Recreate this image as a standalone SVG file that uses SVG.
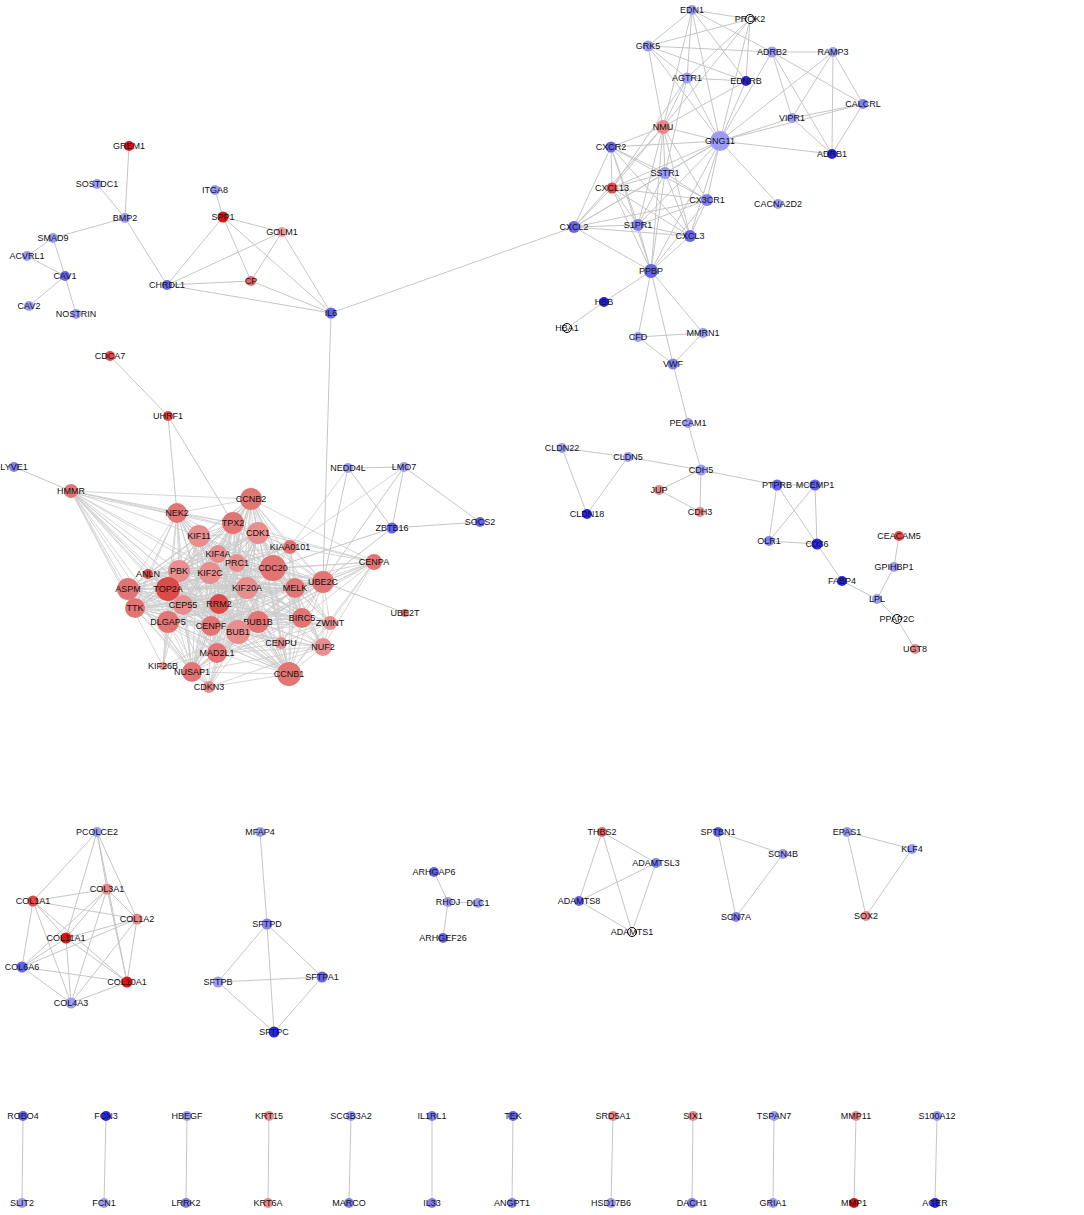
<svg xmlns="http://www.w3.org/2000/svg" width="1084" height="1215" viewBox="0 0 1084 1215">
<style>
.e{stroke:#c6c6c6;stroke-width:1;fill:none;stroke-linejoin:round}
.ed{stroke:#cbcbcb;stroke-width:0.8;fill:none;stroke-linejoin:round}
text{font-family:"Liberation Sans",Arial,sans-serif;font-size:9px;text-anchor:middle;fill:#111}
.lb{fill:#9c9cf8}.lm{fill:#8080f4}.mb{fill:#6464f0}.db{fill:#2626e6}
.lp{fill:#f0a0a0}.lr{fill:#ea8888}.rm{fill:#e86666}.rd{fill:#e44848}.dr{fill:#dd1414}
.c{fill:#e27474}.cl{fill:#e88e8e}.cd{fill:#dc4a4a}
.rg{fill:#fff;stroke:#000;stroke-width:1}
</style>
<rect width="1084" height="1215" fill="#fff"/>
<g id="connectors">
<path class="e" d="M129 146 125 218M97 184 125 218M125 218 53 238M125 218 167 285M53 238 27 256M53 238 65 276M27 256 65 276M65 276 29 306M65 276 76 314M215 190 223 217M223 217 282 232M223 217 167 285M223 217 251 281M223 217 331 313M282 232 167 285M282 232 251 281M282 232 331 313M167 285 251 281M167 285 331 313M251 281 331 313M331 313 574 227M331 313 323 582"/>
<path class="e" d="M692 10 750 19M692 10 648 46M692 10 772 52M692 10 746 81M692 10 687 78M692 10 663 127M692 10 720 141M750 19 648 46M750 19 746 81M750 19 663 127M750 19 720 141M750 19 687 78M648 46 772 52M648 46 746 81M648 46 687 78M648 46 663 127M648 46 720 141M772 52 833 52M772 52 720 141M772 52 792 118M772 52 832 154M772 52 863 104M833 52 863 104M833 52 832 154M833 52 792 118M833 52 720 141M687 78 746 81M687 78 663 127M687 78 720 141M687 78 665 173M687 78 612 188M746 81 663 127M746 81 720 141M863 104 792 118M863 104 720 141M863 104 832 154M792 118 720 141M792 118 832 154M720 141 832 154M720 141 778 204"/>
<path class="e" d="M663 127 720 141M663 127 611 147M663 127 665 173M663 127 612 188M663 127 707 200M663 127 574 227M663 127 638 225M663 127 690 236M663 127 651 271M720 141 611 147M720 141 665 173M720 141 612 188M720 141 707 200M720 141 574 227M720 141 638 225M720 141 690 236M720 141 651 271M611 147 665 173M611 147 612 188M611 147 707 200M611 147 574 227M611 147 638 225M611 147 690 236M611 147 651 271M665 173 612 188M665 173 707 200M665 173 574 227M665 173 638 225M665 173 690 236M665 173 651 271M612 188 707 200M612 188 574 227M612 188 638 225M612 188 690 236M612 188 651 271M707 200 574 227M707 200 638 225M707 200 690 236M707 200 651 271M574 227 638 225M574 227 690 236M574 227 651 271M638 225 690 236M638 225 651 271M690 236 651 271"/>
<path class="e" d="M651 271 604 302M604 302 567 328M651 271 638 337M651 271 703 333M651 271 673 364M638 337 703 333M638 337 673 364M703 333 673 364M673 364 688 423"/>
<path class="e" d="M688 423 701 470M562 448 628 457M562 448 587 514M628 457 587 514M628 457 701 470M701 470 659 490M701 470 700 512M659 490 700 512M701 470 777 485M777 485 815 485M777 485 769 541M777 485 817 544M815 485 769 541M815 485 817 544M769 541 817 544M817 544 842 581M842 581 877 599M899 536 894 567M894 567 877 599M877 599 897 619M897 619 915 649"/>
<path class="e" d="M110 356 168 416M168 416 177 513M168 416 233 523M14 467 71 491M348 468 404 467M348 468 392 528M348 468 323 582M404 467 392 528M404 467 480 522M404 467 323 582M392 528 480 522M392 528 323 582M392 528 273 568M405 613 323 582"/>
<path class="ed" d="M289 674 251 499 233 523 192 672 199 536 217 653 258 533 238 632 218 554 211 626 237 563 168 622 273 568 258 622 179 571 302 618 210 573 219 604 323 582 183 605 247 588 135 608 295 588 168 589 128 589Z"/>
<path class="ed" d="M289 674 233 523 199 536 251 499 258 533 192 672 218 554 217 653 237 563 238 632 273 568 211 626 179 571 168 622 210 573 258 622 323 582 302 618 247 588 219 604 295 588 183 605 128 589 135 608 168 589Z"/>
<path class="ed" d="M289 674 199 536 258 533 233 523 218 554 251 499 237 563 192 672 273 568 217 653 179 571 238 632 210 573 211 626 323 582 168 622 247 588 258 622 295 588 302 618 128 589 219 604 168 589 183 605 135 608Z"/>
<path class="ed" d="M289 674 258 533 218 554 199 536 237 563 233 523 273 568 251 499 179 571 192 672 210 573 217 653 323 582 238 632 247 588 211 626 295 588 168 622 128 589 258 622 168 589 302 618 135 608 219 604 183 605Z"/>
<path class="ed" d="M289 674 218 554 237 563 258 533 273 568 199 536 179 571 233 523 210 573 251 499 323 582 192 672 247 588 217 653 295 588 238 632 128 589 211 626 168 589 168 622 135 608 258 622 183 605 302 618 219 604Z"/>
<path class="ed" d="M289 674 237 563 273 568 218 554 179 571 258 533 210 573 199 536 323 582 233 523 247 588 251 499 295 588 192 672 128 589 217 653 168 589 238 632 135 608 211 626 183 605 168 622 219 604 258 622 302 618Z"/>
<path class="ed" d="M289 674 273 568 179 571 237 563 210 573 218 554 323 582 258 533 247 588 199 536 295 588 233 523 128 589 251 499 168 589 192 672 135 608 217 653 183 605 238 632 219 604 211 626 302 618 168 622 258 622Z"/>
<path class="ed" d="M289 674 179 571 210 573 273 568 323 582 237 563 247 588 218 554 295 588 258 533 128 589 199 536 168 589 233 523 135 608 251 499 183 605 192 672 219 604 217 653 302 618 238 632 258 622 211 626 168 622Z"/>
<path class="ed" d="M289 674 210 573 323 582 179 571 247 588 273 568 295 588 237 563 128 589 218 554 168 589 258 533 135 608 199 536 183 605 233 523 219 604 251 499 302 618 192 672 258 622 217 653 168 622 238 632 211 626Z"/>
<path class="ed" d="M289 674 323 582 247 588 210 573 295 588 179 571 128 589 273 568 168 589 237 563 135 608 218 554 183 605 258 533 219 604 199 536 302 618 233 523 258 622 251 499 168 622 192 672 211 626 217 653 238 632Z"/>
<path class="ed" d="M289 674 247 588 295 588 323 582 128 589 210 573 168 589 179 571 135 608 273 568 183 605 237 563 219 604 218 554 302 618 258 533 258 622 199 536 168 622 233 523 211 626 251 499 238 632 192 672 217 653Z"/>
<path class="ed" d="M289 674 295 588 128 589 247 588 168 589 323 582 135 608 210 573 183 605 179 571 219 604 273 568 302 618 237 563 258 622 218 554 168 622 258 533 211 626 199 536 238 632 233 523 217 653 251 499 192 672Z"/>
<path class="ed" d="M177 513 251 499M177 513 233 523M177 513 199 536M177 513 258 533M177 513 218 554M177 513 179 571M177 513 210 573M177 513 168 589M177 513 128 589M177 513 135 608M177 513 183 605M177 513 168 622M177 513 238 632M177 513 273 568M177 513 289 674M177 513 247 588M177 513 237 563M177 513 217 653M177 513 219 604M177 513 192 672M177 513 211 626M177 513 258 622M177 513 148 574"/>
<path class="ed" d="M71 491 177 513M71 493 177 515M71 491 233 523M71 491 199 536M71 491 179 571M71 491 168 589M71 491 128 589M71 491 135 608M71 491 168 622M71 491 183 605M71 491 210 573M71 491 211 626M71 491 238 632M71 491 217 653M71 491 192 672M71 491 289 674M71 491 258 533M71 491 251 499M71 491 247 588M71 491 148 574M71 491 163 666"/>
<path class="ed" d="M148 574 168 589M148 574 128 589M148 574 179 571M148 574 199 536M148 574 210 573M148 574 183 605M148 574 168 622M148 574 135 608M148 574 247 588M148 574 218 554M148 574 237 563M148 574 238 632M148 574 289 674M148 574 258 533"/>
<path class="ed" d="M290 547 251 499M290 547 258 533M290 547 273 568M290 547 233 523M290 547 323 582M290 547 295 588M290 547 302 618M290 547 247 588M290 547 237 563M290 547 218 554M290 547 219 604M290 547 238 632M290 547 168 589M290 547 289 674M290 547 348 468M290 547 404 467M290 547 179 571M290 547 210 573"/>
<path class="ed" d="M374 562 251 499M374 562 258 533M374 562 273 568M374 562 323 582M374 562 295 588M374 562 302 618M374 562 258 622M374 562 238 632M374 562 330 623M374 562 323 647M374 562 289 674M374 562 247 588M374 562 211 626M374 562 290 547M374 562 233 523M374 562 210 573M374 562 217 653"/>
<path class="ed" d="M330 623 273 568M330 623 258 622M330 623 238 632M330 623 289 674M330 623 323 647M330 623 217 653M330 623 302 618M330 623 323 582M330 623 211 626M330 623 210 573M330 623 251 499M330 623 258 533M330 623 295 588M330 623 247 588"/>
<path class="ed" d="M281 643 289 674M281 643 323 647M281 643 238 632M281 643 258 622M281 643 217 653M281 643 211 626M281 643 302 618M281 643 273 568M281 643 210 573M281 643 330 623M281 643 168 589M281 643 323 582M281 643 251 499"/>
<path class="ed" d="M323 647 289 674M323 647 238 632M323 647 258 622M323 647 302 618M323 647 273 568M323 647 323 582M323 647 217 653M323 647 211 626M323 647 210 573M323 647 258 533M323 647 168 589M323 647 192 672M323 647 251 499M323 647 295 588M323 647 247 588"/>
<path class="ed" d="M163 666 192 672M163 666 168 622M163 666 168 589M163 666 217 653M163 666 238 632M163 666 199 536M163 666 179 571M209 687 289 674M209 687 192 672M209 687 217 653M209 687 238 632M209 687 258 533M209 687 273 568M209 687 168 589M209 687 168 622M209 687 258 622M209 687 211 626M209 687 247 588M209 687 323 647M209 687 135 608M209 687 128 589"/>
<path class="e" d="M97 832 33 901M97 832 107 889M97 832 137 919M97 832 66 938M97 832 127 982M107 889 33 901M107 889 137 919M107 889 66 938M107 889 22 967M107 889 71 1003M107 889 127 982M33 901 137 919M33 901 66 938M33 901 22 967M33 901 71 1003M33 901 127 982M137 919 66 938M137 919 22 967M137 919 71 1003M137 919 127 982M66 938 22 967M66 938 71 1003M66 938 127 982M22 967 127 982M22 967 71 1003M71 1003 127 982"/>
<path class="e" d="M260 832 267 924M267 924 218 982M267 924 322 977M267 924 274 1032M218 982 322 977M218 982 274 1032M322 977 274 1032M434 872 448 902M448 902 478 903M448 902 443 938M602 832 656 863M602 832 579 901M602 832 632 932M656 863 579 901M656 863 632 932M579 901 632 932M718 832 783 854M718 832 736 917M783 854 736 917M847 832 912 849M847 832 866 916M912 849 866 916"/>
<path class="e" d="M23 1116 22 1203M106 1116 104 1203M187 1116 186 1203M269 1116 268 1203M351 1116 349 1203M432 1116 432 1203M513 1116 512 1203M613 1116 611 1203M693 1116 692 1203M774 1116 773 1203M856 1116 854 1203M937 1116 935 1203"/>
</g>
<g id="nodes">
<g id="GREM1"><circle cx="129" cy="146" r="5" class="dr"/><text x="129" y="149">GREM1</text></g>
<g id="SOSTDC1"><circle cx="97" cy="184" r="5" class="lb"/><text x="97" y="187">SOSTDC1</text></g>
<g id="BMP2"><circle cx="125" cy="218" r="5" class="lb"/><text x="125" y="221">BMP2</text></g>
<g id="SMAD9"><circle cx="53" cy="238" r="5" class="lb"/><text x="53" y="241">SMAD9</text></g>
<g id="ACVRL1"><circle cx="27" cy="256" r="5" class="lb"/><text x="27" y="259">ACVRL1</text></g>
<g id="CAV1"><circle cx="65" cy="276" r="5" class="mb"/><text x="65" y="279">CAV1</text></g>
<g id="CAV2"><circle cx="29" cy="306" r="5" class="lb"/><text x="29" y="309">CAV2</text></g>
<g id="NOSTRIN"><circle cx="76" cy="314" r="5" class="lb"/><text x="76" y="317">NOSTRIN</text></g>
<g id="ITGA8"><circle cx="215" cy="190" r="5" class="lb"/><text x="215" y="193">ITGA8</text></g>
<g id="SPP1"><circle cx="223" cy="217" r="5.5" class="dr"/><text x="223" y="220">SPP1</text></g>
<g id="GOLM1"><circle cx="282" cy="232" r="5" class="lp"/><text x="282" y="235">GOLM1</text></g>
<g id="CP"><circle cx="251" cy="281" r="5" class="rm"/><text x="251" y="284">CP</text></g>
<g id="CHRDL1"><circle cx="167" cy="285" r="5" class="mb"/><text x="167" y="288">CHRDL1</text></g>
<g id="IL6"><circle cx="331" cy="313" r="5.5" class="mb"/><text x="331" y="316">IL6</text></g>
<g id="EDN1"><circle cx="692" cy="10" r="5" class="lb"/><text x="692" y="13">EDN1</text></g>
<g id="PROK2"><circle cx="750" cy="19" r="4.5" class="rg"/><text x="750" y="22">PROK2</text></g>
<g id="GRK5"><circle cx="648" cy="46" r="5.5" class="lb"/><text x="648" y="49">GRK5</text></g>
<g id="ADRB2"><circle cx="772" cy="52" r="5.5" class="lb"/><text x="772" y="55">ADRB2</text></g>
<g id="RAMP3"><circle cx="833" cy="52" r="5" class="lb"/><text x="833" y="55">RAMP3</text></g>
<g id="AGTR1"><circle cx="687" cy="78" r="5.5" class="lb"/><text x="687" y="81">AGTR1</text></g>
<g id="EDNRB"><circle cx="746" cy="81" r="5" class="db"/><text x="746" y="84">EDNRB</text></g>
<g id="CALCRL"><circle cx="863" cy="104" r="5" class="lm"/><text x="863" y="107">CALCRL</text></g>
<g id="VIPR1"><circle cx="792" cy="118" r="5" class="lb"/><text x="792" y="121">VIPR1</text></g>
<g id="NMU"><circle cx="663" cy="127" r="7" class="lr"/><text x="663" y="130">NMU</text></g>
<g id="GNG11"><circle cx="720" cy="141" r="10" class="lb"/><text x="720" y="144">GNG11</text></g>
<g id="CXCR2"><circle cx="611" cy="147" r="5.5" class="mb"/><text x="611" y="150">CXCR2</text></g>
<g id="ADRB1"><circle cx="832" cy="154" r="5" class="db"/><text x="832" y="157">ADRB1</text></g>
<g id="SSTR1"><circle cx="665" cy="173" r="6" class="lb"/><text x="665" y="176">SSTR1</text></g>
<g id="CXCL13"><circle cx="612" cy="188" r="5.5" class="rd"/><text x="612" y="191">CXCL13</text></g>
<g id="CX3CR1"><circle cx="707" cy="200" r="6" class="lm"/><text x="707" y="203">CX3CR1</text></g>
<g id="CACNA2D2"><circle cx="778" cy="204" r="5" class="lb"/><text x="778" y="207">CACNA2D2</text></g>
<g id="CXCL2"><circle cx="574" cy="227" r="6" class="mb"/><text x="574" y="230">CXCL2</text></g>
<g id="S1PR1"><circle cx="638" cy="225" r="6" class="lm"/><text x="638" y="228">S1PR1</text></g>
<g id="CXCL3"><circle cx="690" cy="236" r="6" class="mb"/><text x="690" y="239">CXCL3</text></g>
<g id="PPBP"><circle cx="651" cy="271" r="7" class="mb"/><text x="651" y="274">PPBP</text></g>
<g id="HBB"><circle cx="604" cy="302" r="5" class="db"/><text x="604" y="305">HBB</text></g>
<g id="HBA1"><circle cx="567" cy="328" r="4.5" class="rg"/><text x="567" y="331">HBA1</text></g>
<g id="CFD"><circle cx="638" cy="337" r="5" class="lb"/><text x="638" y="340">CFD</text></g>
<g id="MMRN1"><circle cx="703" cy="333" r="5" class="lb"/><text x="703" y="336">MMRN1</text></g>
<g id="VWF"><circle cx="673" cy="364" r="5.5" class="lm"/><text x="673" y="367">VWF</text></g>
<g id="PECAM1"><circle cx="688" cy="423" r="5" class="lb"/><text x="688" y="426">PECAM1</text></g>
<g id="CLDN22"><circle cx="562" cy="448" r="5" class="lb"/><text x="562" y="451">CLDN22</text></g>
<g id="CLDN5"><circle cx="628" cy="457" r="5" class="lb"/><text x="628" y="460">CLDN5</text></g>
<g id="CDH5"><circle cx="701" cy="470" r="5.5" class="lb"/><text x="701" y="473">CDH5</text></g>
<g id="JUP"><circle cx="659" cy="490" r="5" class="lr"/><text x="659" y="493">JUP</text></g>
<g id="CDH3"><circle cx="700" cy="512" r="5" class="lr"/><text x="700" y="515">CDH3</text></g>
<g id="CLDN18"><circle cx="587" cy="514" r="5" class="db"/><text x="587" y="517">CLDN18</text></g>
<g id="PTPRB"><circle cx="777" cy="485" r="5.5" class="mb"/><text x="777" y="488">PTPRB</text></g>
<g id="MCEMP1"><circle cx="815" cy="485" r="5.5" class="mb"/><text x="815" y="488">MCEMP1</text></g>
<g id="OLR1"><circle cx="769" cy="541" r="5" class="lm"/><text x="769" y="544">OLR1</text></g>
<g id="CD36"><circle cx="817" cy="544" r="5.5" class="db"/><text x="817" y="547">CD36</text></g>
<g id="CEACAM5"><circle cx="899" cy="536" r="5" class="rd"/><text x="899" y="539">CEACAM5</text></g>
<g id="GPIHBP1"><circle cx="894" cy="567" r="5" class="lb"/><text x="894" y="570">GPIHBP1</text></g>
<g id="FABP4"><circle cx="842" cy="581" r="5" class="db"/><text x="842" y="584">FABP4</text></g>
<g id="LPL"><circle cx="877" cy="599" r="5" class="lb"/><text x="877" y="602">LPL</text></g>
<g id="PPAP2C"><circle cx="897" cy="619" r="4.5" class="rg"/><text x="897" y="622">PPAP2C</text></g>
<g id="UGT8"><circle cx="915" cy="649" r="5" class="lr"/><text x="915" y="652">UGT8</text></g>
<g id="CDCA7"><circle cx="110" cy="356" r="5" class="rd"/><text x="110" y="359">CDCA7</text></g>
<g id="UHRF1"><circle cx="168" cy="416" r="5" class="rd"/><text x="168" y="419">UHRF1</text></g>
<g id="LYVE1"><circle cx="14" cy="467" r="5" class="lm"/><text x="14" y="470">LYVE1</text></g>
<g id="HMMR"><circle cx="71" cy="491" r="7" class="c"/><text x="71" y="494">HMMR</text></g>
<g id="NEDD4L"><circle cx="348" cy="468" r="5" class="lb"/><text x="348" y="471">NEDD4L</text></g>
<g id="LMO7"><circle cx="404" cy="467" r="5" class="lb"/><text x="404" y="470">LMO7</text></g>
<g id="ZBTB16"><circle cx="392" cy="528" r="5.5" class="mb"/><text x="392" y="531">ZBTB16</text></g>
<g id="SOCS2"><circle cx="480" cy="522" r="5" class="mb"/><text x="480" y="525">SOCS2</text></g>
<g id="NEK2"><circle cx="177" cy="513" r="10" class="c"/><text x="177" y="516">NEK2</text></g>
<g id="CCNB2"><circle cx="251" cy="499" r="11" class="c"/><text x="251" y="502">CCNB2</text></g>
<g id="TPX2"><circle cx="233" cy="523" r="11" class="c"/><text x="233" y="526">TPX2</text></g>
<g id="KIF11"><circle cx="199" cy="536" r="11" class="cl"/><text x="199" y="539">KIF11</text></g>
<g id="CDK1"><circle cx="258" cy="533" r="11" class="cl"/><text x="258" y="536">CDK1</text></g>
<g id="KIAA0101"><circle cx="290" cy="547" r="7" class="c"/><text x="290" y="550">KIAA0101</text></g>
<g id="KIF4A"><circle cx="218" cy="554" r="9" class="cl"/><text x="218" y="557">KIF4A</text></g>
<g id="PRC1"><circle cx="237" cy="563" r="9" class="cl"/><text x="237" y="566">PRC1</text></g>
<g id="CENPA"><circle cx="374" cy="562" r="8" class="c"/><text x="374" y="565">CENPA</text></g>
<g id="PBK"><circle cx="179" cy="571" r="11" class="cl"/><text x="179" y="574">PBK</text></g>
<g id="ANLN"><circle cx="148" cy="574" r="5" class="cd"/><text x="148" y="577">ANLN</text></g>
<g id="KIF2C"><circle cx="210" cy="573" r="11" class="cl"/><text x="210" y="576">KIF2C</text></g>
<g id="CDC20"><circle cx="273" cy="568" r="13" class="c"/><text x="273" y="571">CDC20</text></g>
<g id="UBE2C"><circle cx="323" cy="582" r="11" class="c"/><text x="323" y="585">UBE2C</text></g>
<g id="KIF20A"><circle cx="247" cy="588" r="11" class="cl"/><text x="247" y="591">KIF20A</text></g>
<g id="MELK"><circle cx="295" cy="588" r="10" class="c"/><text x="295" y="591">MELK</text></g>
<g id="ASPM"><circle cx="128" cy="589" r="11" class="c"/><text x="128" y="592">ASPM</text></g>
<g id="TOP2A"><circle cx="168" cy="589" r="12" class="cd"/><text x="168" y="592">TOP2A</text></g>
<g id="TTK"><circle cx="135" cy="608" r="10" class="c"/><text x="135" y="611">TTK</text></g>
<g id="CEP55"><circle cx="183" cy="605" r="10" class="cl"/><text x="183" y="608">CEP55</text></g>
<g id="RRM2"><circle cx="219" cy="604" r="10" class="cd"/><text x="219" y="607">RRM2</text></g>
<g id="BIRC5"><circle cx="302" cy="618" r="10" class="c"/><text x="302" y="621">BIRC5</text></g>
<g id="BUB1B"><circle cx="258" cy="622" r="11" class="c"/><text x="258" y="625">BUB1B</text></g>
<g id="DLGAP5"><circle cx="168" cy="622" r="11" class="c"/><text x="168" y="625">DLGAP5</text></g>
<g id="ZWINT"><circle cx="330" cy="623" r="7" class="cl"/><text x="330" y="626">ZWINT</text></g>
<g id="CENPF"><circle cx="211" cy="626" r="10" class="c"/><text x="211" y="629">CENPF</text></g>
<g id="BUB1"><circle cx="238" cy="632" r="12" class="cl"/><text x="238" y="635">BUB1</text></g>
<g id="CENPU"><circle cx="281" cy="643" r="6" class="cl"/><text x="281" y="646">CENPU</text></g>
<g id="NUF2"><circle cx="323" cy="647" r="9" class="cl"/><text x="323" y="650">NUF2</text></g>
<g id="MAD2L1"><circle cx="217" cy="653" r="10" class="c"/><text x="217" y="656">MAD2L1</text></g>
<g id="KIF26B"><circle cx="163" cy="666" r="4" class="cl"/><text x="163" y="669">KIF26B</text></g>
<g id="NUSAP1"><circle cx="192" cy="672" r="10" class="c"/><text x="192" y="675">NUSAP1</text></g>
<g id="CCNB1"><circle cx="289" cy="674" r="12" class="c"/><text x="289" y="677">CCNB1</text></g>
<g id="CDKN3"><circle cx="209" cy="687" r="6" class="cl"/><text x="209" y="690">CDKN3</text></g>
<g id="UBE2T"><circle cx="405" cy="613" r="4" class="c"/><text x="405" y="616">UBE2T</text></g>
<g id="PCOLCE2"><circle cx="97" cy="832" r="5" class="lb"/><text x="97" y="835">PCOLCE2</text></g>
<g id="COL3A1"><circle cx="107" cy="889" r="5.5" class="lr"/><text x="107" y="892">COL3A1</text></g>
<g id="COL1A1"><circle cx="33" cy="901" r="5.5" class="rd"/><text x="33" y="904">COL1A1</text></g>
<g id="COL1A2"><circle cx="137" cy="919" r="5.5" class="lr"/><text x="137" y="922">COL1A2</text></g>
<g id="COL11A1"><circle cx="66" cy="938" r="5.5" class="dr"/><text x="66" y="941">COL11A1</text></g>
<g id="COL6A6"><circle cx="22" cy="967" r="5.5" class="mb"/><text x="22" y="970">COL6A6</text></g>
<g id="COL10A1"><circle cx="127" cy="982" r="5.5" class="dr"/><text x="127" y="985">COL10A1</text></g>
<g id="COL4A3"><circle cx="71" cy="1003" r="5.5" class="lb"/><text x="71" y="1006">COL4A3</text></g>
<g id="MFAP4"><circle cx="260" cy="832" r="5" class="lb"/><text x="260" y="835">MFAP4</text></g>
<g id="SFTPD"><circle cx="267" cy="924" r="5.5" class="lm"/><text x="267" y="927">SFTPD</text></g>
<g id="SFTPB"><circle cx="218" cy="982" r="5.5" class="lb"/><text x="218" y="985">SFTPB</text></g>
<g id="SFTPA1"><circle cx="322" cy="977" r="5.5" class="mb"/><text x="322" y="980">SFTPA1</text></g>
<g id="SFTPC"><circle cx="274" cy="1032" r="5.5" class="db"/><text x="274" y="1035">SFTPC</text></g>
<g id="ARHGAP6"><circle cx="434" cy="872" r="5" class="mb"/><text x="434" y="875">ARHGAP6</text></g>
<g id="RHOJ"><circle cx="448" cy="902" r="5" class="lb"/><text x="448" y="905">RHOJ</text></g>
<g id="DLC1"><circle cx="478" cy="903" r="5" class="lb"/><text x="478" y="906">DLC1</text></g>
<g id="ARHGEF26"><circle cx="443" cy="938" r="5" class="mb"/><text x="443" y="941">ARHGEF26</text></g>
<g id="THBS2"><circle cx="602" cy="832" r="5" class="rm"/><text x="602" y="835">THBS2</text></g>
<g id="ADAMTSL3"><circle cx="656" cy="863" r="5" class="lm"/><text x="656" y="866">ADAMTSL3</text></g>
<g id="ADAMTS8"><circle cx="579" cy="901" r="5" class="mb"/><text x="579" y="904">ADAMTS8</text></g>
<g id="ADAMTS1"><circle cx="632" cy="932" r="4.5" class="rg"/><text x="632" y="935">ADAMTS1</text></g>
<g id="SPTBN1"><circle cx="718" cy="832" r="5" class="mb"/><text x="718" y="835">SPTBN1</text></g>
<g id="SCN4B"><circle cx="783" cy="854" r="5" class="lb"/><text x="783" y="857">SCN4B</text></g>
<g id="SCN7A"><circle cx="736" cy="917" r="5" class="lm"/><text x="736" y="920">SCN7A</text></g>
<g id="EPAS1"><circle cx="847" cy="832" r="5" class="lb"/><text x="847" y="835">EPAS1</text></g>
<g id="KLF4"><circle cx="912" cy="849" r="5" class="lb"/><text x="912" y="852">KLF4</text></g>
<g id="SOX2"><circle cx="866" cy="916" r="5" class="lr"/><text x="866" y="919">SOX2</text></g>
<g id="ROBO4"><circle cx="23" cy="1116" r="5" class="mb"/><text x="23" y="1119">ROBO4</text></g>
<g id="SLIT2"><circle cx="22" cy="1203" r="5" class="lb"/><text x="22" y="1206">SLIT2</text></g>
<g id="FCN3"><circle cx="106" cy="1116" r="5" class="db"/><text x="106" y="1119">FCN3</text></g>
<g id="FCN1"><circle cx="104" cy="1203" r="5" class="lb"/><text x="104" y="1206">FCN1</text></g>
<g id="HBEGF"><circle cx="187" cy="1116" r="5" class="lb"/><text x="187" y="1119">HBEGF</text></g>
<g id="LRRK2"><circle cx="186" cy="1203" r="5" class="lm"/><text x="186" y="1206">LRRK2</text></g>
<g id="KRT15"><circle cx="269" cy="1116" r="5" class="lr"/><text x="269" y="1119">KRT15</text></g>
<g id="KRT6A"><circle cx="268" cy="1203" r="5" class="lr"/><text x="268" y="1206">KRT6A</text></g>
<g id="SCGB3A2"><circle cx="351" cy="1116" r="5" class="lb"/><text x="351" y="1119">SCGB3A2</text></g>
<g id="MARCO"><circle cx="349" cy="1203" r="5" class="lm"/><text x="349" y="1206">MARCO</text></g>
<g id="IL1RL1"><circle cx="432" cy="1116" r="5" class="lm"/><text x="432" y="1119">IL1RL1</text></g>
<g id="IL33"><circle cx="432" cy="1203" r="5" class="lm"/><text x="432" y="1206">IL33</text></g>
<g id="TEK"><circle cx="513" cy="1116" r="5" class="mb"/><text x="513" y="1119">TEK</text></g>
<g id="ANGPT1"><circle cx="512" cy="1203" r="5" class="lm"/><text x="512" y="1206">ANGPT1</text></g>
<g id="SRD5A1"><circle cx="613" cy="1116" r="5" class="lr"/><text x="613" y="1119">SRD5A1</text></g>
<g id="HSD17B6"><circle cx="611" cy="1203" r="5" class="lb"/><text x="611" y="1206">HSD17B6</text></g>
<g id="SIX1"><circle cx="693" cy="1116" r="5" class="lr"/><text x="693" y="1119">SIX1</text></g>
<g id="DACH1"><circle cx="692" cy="1203" r="5" class="lm"/><text x="692" y="1206">DACH1</text></g>
<g id="TSPAN7"><circle cx="774" cy="1116" r="5" class="lb"/><text x="774" y="1119">TSPAN7</text></g>
<g id="GRIA1"><circle cx="773" cy="1203" r="5" class="lb"/><text x="773" y="1206">GRIA1</text></g>
<g id="MMP11"><circle cx="856" cy="1116" r="5" class="lr"/><text x="856" y="1119">MMP11</text></g>
<g id="MMP1"><circle cx="854" cy="1203" r="5" class="dr"/><text x="854" y="1206">MMP1</text></g>
<g id="S100A12"><circle cx="937" cy="1116" r="5" class="lb"/><text x="937" y="1119">S100A12</text></g>
<g id="AGER"><circle cx="935" cy="1203" r="5" class="db"/><text x="935" y="1206">AGER</text></g>
</g>
</svg>
